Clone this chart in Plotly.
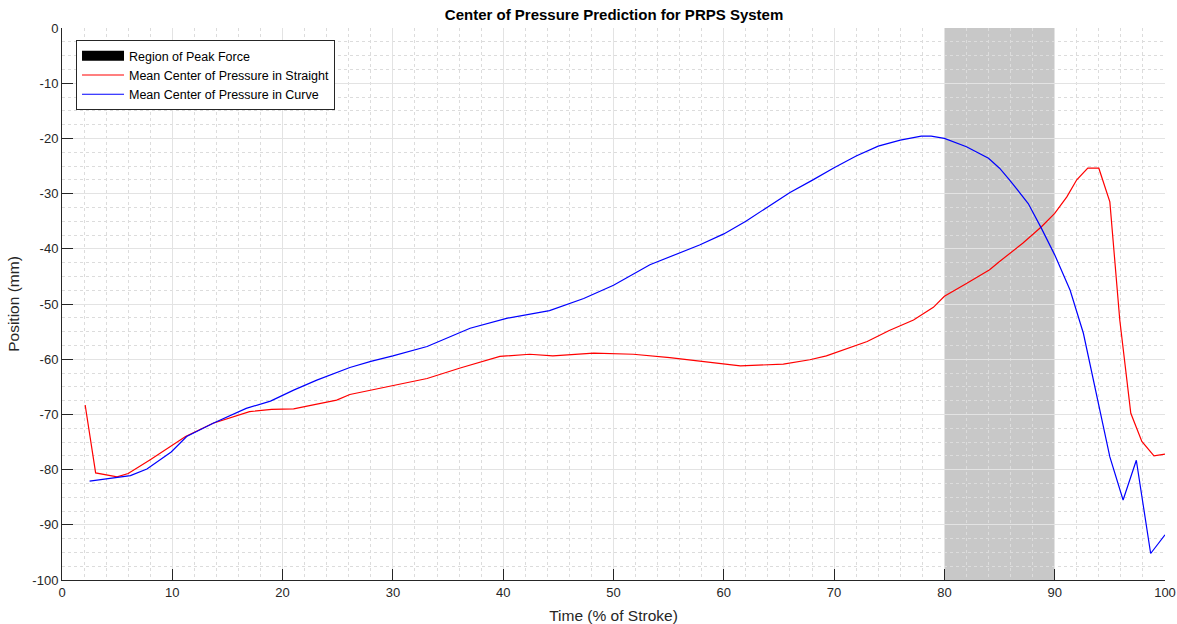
import plotly.graph_objects as go

# Mean center of pressure, straight (red)
straight_x = [2.1, 3.05, 5.0, 6.0, 8.0, 10.1, 11.2, 13.7, 17.0, 19.0, 21.0, 23.0, 24.9, 26.1, 28.0, 30.0,
              33.1, 36.1, 39.7, 42.4, 44.5, 48.2, 51.8, 55.1, 58.1, 61.5, 65.4, 67.8, 69.3, 71.4, 73.0,
              75.0, 77.2, 79.0, 80.0, 82.0, 84.1, 85.0, 87.1, 88.8, 90.0, 91.1, 92.0, 93.0, 94.0, 95.0,
              95.9, 96.9, 97.9, 99.0, 100.0]
straight_y = [-68.3, -80.6, -81.3, -80.7, -78.2, -75.5, -74.0, -71.6, -69.5, -69.1, -69.0, -68.2, -67.4, -66.4, -65.6, -64.8,
              -63.5, -61.6, -59.5, -59.1, -59.4, -58.9, -59.1, -59.7, -60.4, -61.2, -60.9, -60.1, -59.4, -58.0, -56.8,
              -54.8, -52.9, -50.6, -48.6, -46.3, -43.8, -42.3, -39.0, -36.0, -33.6, -30.6, -27.5, -25.4, -25.4, -31.5,
              -52.9, -69.8, -74.9, -77.5, -77.2]

# Mean center of pressure, curve (blue)
curve_x = [2.5, 5.0, 6.2, 7.7, 9.9, 11.3, 13.7, 16.7, 18.9, 21.0, 23.1, 26.1, 28.0, 30.0, 33.1, 37.0, 40.3,
           44.2, 47.3, 50.0, 53.3, 57.8, 60.0, 62.0, 64.0, 66.0, 68.0, 70.0, 72.0, 74.0, 76.0, 77.9, 78.8,
           80.0, 82.0, 84.0, 85.0, 85.9, 87.6, 88.8, 90.0, 91.4, 92.6, 93.8, 95.0, 96.2, 97.4, 98.7, 100.0]
curve_y = [-82.1, -81.5, -81.1, -79.9, -76.8, -74.0, -71.6, -68.9, -67.6, -65.6, -63.8, -61.5, -60.4, -59.4, -57.7, -54.4, -52.6,
           -51.2, -49.0, -46.6, -42.9, -39.3, -37.3, -35.0, -32.4, -29.8, -27.6, -25.3, -23.2, -21.4, -20.3, -19.6, -19.6,
           -20.0, -21.5, -23.6, -25.4, -27.5, -31.8, -36.3, -41.1, -47.5, -55.3, -66.2, -77.7, -85.5, -78.3, -95.2, -91.8]

peak_region = [80, 90]

x_ticks = list(range(0, 101, 10))
y_ticks = list(range(-100, 1, 10))
y_tick_text = [str(v) for v in y_ticks]

fig = go.Figure()

fig.add_trace(go.Scatter(x=[None], y=[None], mode="lines", name="Region of Peak Force",
                         line=dict(color="black", width=12)))
fig.add_trace(go.Scatter(x=straight_x, y=straight_y, mode="lines",
                         name="Mean Center of Pressure in Straight",
                         line=dict(color="#ff0000", width=1.2)))
fig.add_trace(go.Scatter(x=curve_x, y=curve_y, mode="lines",
                         name="Mean Center of Pressure in Curve",
                         line=dict(color="#0000ff", width=1.2)))

fig.add_shape(type="rect", xref="x", yref="y", x0=peak_region[0], x1=peak_region[1],
              y0=-100, y1=0, fillcolor="#c8c8c8", line=dict(width=0), layer="below")

axis_font = dict(family="Liberation Sans, Arial, sans-serif", size=13, color="#262626")

fig.update_layout(
    width=1177, height=624,
    margin=dict(l=62, r=12, t=28, b=44, autoexpand=False),
    paper_bgcolor="white", plot_bgcolor="white",
    title=dict(text="<b>Center of Pressure Prediction for PRPS System</b>",
               x=0.5217, xanchor="center", y=0.976, yanchor="middle",
               font=dict(family="Liberation Sans, Arial, sans-serif", size=15, color="black")),
    showlegend=True,
    legend=dict(x=0.0127, y=0.978, xanchor="left", yanchor="top",
                bgcolor="white", bordercolor="#262626", borderwidth=1,
                font=dict(family="Liberation Sans, Arial, sans-serif", size=12.5, color="black"),
                tracegroupgap=0, itemwidth=42),
    font=axis_font,
)

fig.update_xaxes(range=[0, 100], tickvals=x_ticks, ticks="inside", ticklen=11, tickcolor="#262626",
                 showline=True, linecolor="#262626", linewidth=1, mirror=False, automargin=False,
                 showgrid=True, gridcolor="#e3e3e3", gridwidth=1, zeroline=False,
                 minor=dict(dtick=2, showgrid=True, gridcolor="#dcdcdc", griddash="dot", ticks=""),
                 title=dict(text="Time (% of Stroke)", font=dict(size=15.5, color="#262626"), standoff=12),
                 tickfont=axis_font)
fig.update_yaxes(range=[-100, 0], tickvals=y_ticks, ticktext=y_tick_text, ticks="inside", ticklen=11,
                 tickcolor="#262626", automargin=False,
                 showline=True, linecolor="#262626", linewidth=1, mirror=False,
                 showgrid=True, gridcolor="#e3e3e3", gridwidth=1, zeroline=False,
                 minor=dict(dtick=2.5, showgrid=True, gridcolor="#dcdcdc", griddash="dot", ticks=""),
                 title=dict(text="Position (mm)", font=dict(size=15.5, color="#262626"), standoff=8),
                 tickfont=axis_font)

fig.write_html("out.html")
